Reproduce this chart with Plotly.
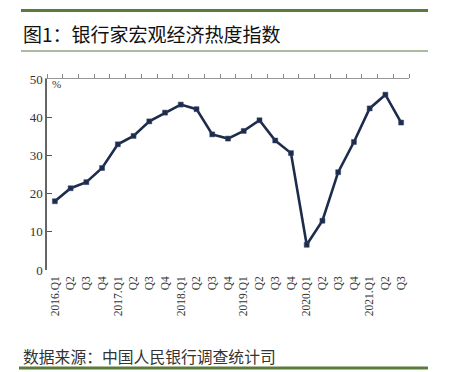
import plotly.graph_objects as go

quarters = ["2016.Q1", "Q2", "Q3", "Q4",
            "2017.Q1", "Q2", "Q3", "Q4",
            "2018.Q1", "Q2", "Q3", "Q4",
            "2019.Q1", "Q2", "Q3", "Q4",
            "2020.Q1", "Q2", "Q3", "Q4",
            "2021.Q1", "Q2", "Q3"]
index_values = [18.0, 21.4, 23.0, 26.7,
                32.9, 35.1, 38.9, 41.2,
                43.3, 42.1, 35.5, 34.4,
                36.4, 39.2, 33.9, 30.6,
                6.6, 12.9, 25.6, 33.5,
                42.3, 45.9, 38.6]
y_ticks = [0, 10, 20, 30, 40, 50]

W, H = 449, 372
L, R, T, B = 47, 409, 79, 270
pw, ph = R - L, B - T

def px(x):
    return (x - L) / pw

def py(y):
    return (B - y) / ph

xs = list(range(len(quarters)))
n = len(quarters)

fig = go.Figure()
fig.add_trace(go.Scatter(
    x=xs, y=index_values, mode="lines+markers",
    line=dict(color="#1d2b4c", width=2.6),
    marker=dict(symbol="square", size=5, color="#1d2b4c",
                line=dict(color="#3a4a6a", width=0.5)),
    showlegend=False, hoverinfo="skip"))
# helper trace so the top axis renders
fig.add_trace(go.Scatter(x=xs, y=index_values, mode="none", xaxis="x2",
                         showlegend=False, hoverinfo="skip"))

green = "#5b7b3c"
shapes = [
    dict(type="line", xref="paper", yref="paper", x0=px(21), x1=px(428), y0=py(10.5), y1=py(10.5),
         line=dict(color=green, width=3.2)),
    dict(type="line", xref="paper", yref="paper", x0=px(21), x1=px(428), y0=py(51), y1=py(51),
         line=dict(color=green, width=1.2)),
    dict(type="line", xref="paper", yref="paper", x0=px(19), x1=px(428), y0=py(368), y1=py(368),
         line=dict(color=green, width=3.2)),
]

annotations = [
    dict(text="图1：银行家宏观经济热度指数", xref="paper", yref="paper",
         x=px(21), y=py(33), xanchor="left", yanchor="middle", showarrow=False,
         font=dict(family="Noto Sans CJK SC", size=19, color="#111111")),
    dict(text="数据来源：中国人民银行调查统计司", xref="paper", yref="paper",
         x=px(21), y=py(356), xanchor="left", yanchor="middle", showarrow=False,
         font=dict(family="Noto Sans CJK SC", size=15.8, color="#333333")),
    dict(text="%", xref="paper", yref="paper", x=px(50), y=py(84),
         xanchor="left", yanchor="middle", showarrow=False,
         font=dict(family="Liberation Serif", size=11, color="#333333")),
]

fig.update_layout(
    width=W, height=H,
    margin=dict(l=L, r=W - R, t=T, b=H - B, pad=0),
    paper_bgcolor="white", plot_bgcolor="white",
    shapes=shapes, annotations=annotations,
    xaxis=dict(range=[-0.5, n - 0.5], tickmode="array", tickvals=xs, ticktext=quarters,
               tickangle=-90, showline=False, ticks="", showgrid=False, zeroline=False,
               ticklabelstandoff=3,
               tickfont=dict(family="Liberation Serif", size=11.5, color="#333333")),
    xaxis2=dict(range=[-0.5, n - 0.5], overlaying="x", side="top", anchor="y",
                tickmode="array", tickvals=[i - 0.5 for i in range(n + 1)],
                showticklabels=False, ticks="outside", ticklen=4, tickcolor="#888888",
                showline=True, linecolor="#999999", linewidth=1.2,
                showgrid=False, zeroline=False),
    yaxis=dict(range=[0, 50], tickmode="array", tickvals=y_ticks,
               ticks="inside", ticklen=5, tickcolor="#555555",
               showline=True, linecolor="#666666", linewidth=1.5,
               showgrid=False, zeroline=False,
               tickfont=dict(family="Liberation Serif", size=13, color="#333333")),
)

fig.write_html("out.html", config={"displayModeBar": False},
               post_script="document.body.style.margin='0px';document.body.style.overflow='hidden';")
